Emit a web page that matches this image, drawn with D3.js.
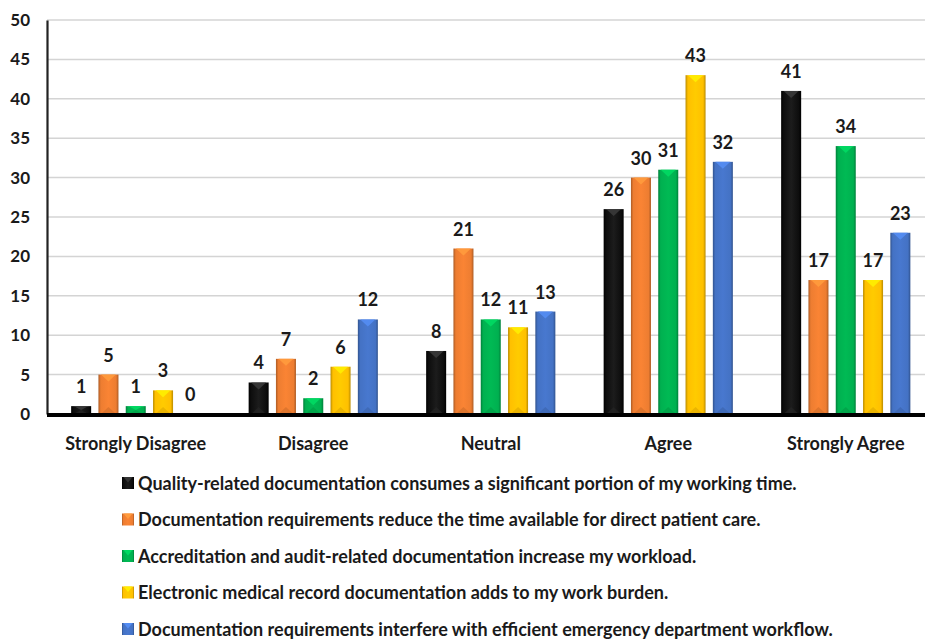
<!DOCTYPE html>
<html>
<head>
<meta charset="utf-8">
<script src="https://cdn.jsdelivr.net/npm/d3@7"></script>
<style>
  html, body { margin: 0; padding: 0; background: #fff; }
  svg text { font-family: Lato, "Open Sans", sans-serif; font-weight: bold; fill: #1a1a1a; }
</style>
</head>
<body>
<svg id="chart" width="925" height="639"></svg>
<script>
const categories = ["Strongly Disagree", "Disagree", "Neutral", "Agree", "Strongly Agree"];
const seriesNames = [
  "Quality-related documentation consumes a significant portion of my working time.",
  "Documentation requirements reduce the time available for direct patient care.",
  "Accreditation and audit-related documentation increase my workload.",
  "Electronic medical record documentation adds to my work burden.",
  "Documentation requirements interfere with efficient emergency department workflow."
];
const qualityTime   = [1, 4, 8, 26, 41];
const patientCare   = [5, 7, 21, 30, 17];
const accreditation = [1, 2, 12, 31, 34];
const emrBurden     = [3, 6, 11, 43, 17];
const edWorkflow    = [0, 12, 13, 32, 23];
const seriesValues = [qualityTime, patientCare, accreditation, emrBurden, edWorkflow];
const seriesColors = ["#0d0d0d", "#ED7D31", "#00B050", "#FFC000", "#4472C4"];
const yTicks = [0, 5, 10, 15, 20, 25, 30, 35, 40, 45, 50];

const svg = d3.select("#chart");
const W = 925, H = 639;
const pLeft = 47, pTop = 20, pBottom = 414, pRight = 934.5;

const x = d3.scaleBand().domain(categories).range([pLeft, pRight]).paddingInner(0).paddingOuter(0);
const xs = d3.scaleBand().domain(d3.range(5)).range([-68.25, 68.25]).paddingInner(0.267).paddingOuter(0.1335);
const y = d3.scaleLinear().domain([0, 50]).range([pBottom, pTop]);

const defs = svg.append("defs");
seriesColors.forEach((c, i) => {
  const base = d3.color(c);
  const g = defs.append("linearGradient").attr("id", "g" + i).attr("x1", "0").attr("x2", "1").attr("y1", "0").attr("y2", "0");
  const dark = i === 0 ? "#000" : base.darker(0.9).formatHex();
  const lite = i === 0 ? "#1c1c1c" : base.brighter(0.15).formatHex();
  g.append("stop").attr("offset", "0").attr("stop-color", dark);
  g.append("stop").attr("offset", "0.12").attr("stop-color", base.formatHex());
  g.append("stop").attr("offset", "0.5").attr("stop-color", lite);
  g.append("stop").attr("offset", "0.88").attr("stop-color", base.formatHex());
  g.append("stop").attr("offset", "1").attr("stop-color", dark);
});

// gridlines
svg.append("g").selectAll("line").data(yTicks.filter(t => t > 0)).join("line")
  .attr("x1", pLeft).attr("x2", W).attr("y1", d => y(d)).attr("y2", d => y(d))
  .attr("stroke", "#d4d4d4").attr("stroke-width", 1.5);

// y axis
const yAxis = d3.axisLeft(y).tickValues(yTicks).tickSize(0).tickPadding(17);
const ya = svg.append("g").attr("transform", `translate(${pLeft},0)`).call(yAxis);
ya.select(".domain").attr("stroke", "#222").attr("stroke-width", 2.2);
ya.selectAll("text").attr("font-size", 17).attr("font-family", "Lato, sans-serif").attr("font-weight", "bold").attr("fill", "#1a1a1a");

// bars
const groups = svg.append("g").selectAll("g").data(categories).join("g")
  .attr("transform", d => `translate(${x(d) + x.bandwidth() / 2},0)`);

groups.each(function(cat, ci) {
  const g = d3.select(this);
  seriesValues.forEach((vals, si) => {
    const v = vals[ci];
    const bx = xs(si), bw = xs.bandwidth();
    const by = y(v), bh = y(0) - y(v);
    if (bh > 0) {
      g.append("rect").attr("x", bx).attr("y", by).attr("width", bw).attr("height", bh)
        .attr("fill", `url(#g${si})`);
      const base = d3.color(seriesColors[si]);
      const topCol = si === 0 ? "#3a3a3a" : base.brighter(0.6).formatHex();
      const botCol = si === 0 ? "#262626" : base.darker(0.4).formatHex();
      const ch = Math.min(7, bh / 2);
      g.append("path")
        .attr("d", `M${bx + 2.5},${by} L${bx + bw - 2.5},${by} L${bx + bw / 2},${by + ch} Z`)
        .attr("fill", topCol).attr("opacity", 0.9);
      g.append("path")
        .attr("d", `M${bx + 2.5},${y(0)} L${bx + bw - 2.5},${y(0)} L${bx + bw / 2},${y(0) - ch} Z`)
        .attr("fill", botCol).attr("opacity", 0.6);
    }
    g.append("text").attr("x", bx + bw / 2).attr("y", by - 13)
      .attr("text-anchor", "middle").attr("font-size", 18).text(v);
  });
});

// baseline
svg.append("line").attr("x1", pLeft).attr("x2", W).attr("y1", pBottom + 1).attr("y2", pBottom + 1)
  .attr("stroke", "#000").attr("stroke-width", 4);

// category labels
const xAxis = d3.axisBottom(x).tickSize(0).tickPadding(0);
const xa = svg.append("g").attr("transform", `translate(0,${pBottom})`).call(xAxis);
xa.select(".domain").remove();
xa.selectAll("text").attr("dy", null).attr("y", 35.5).attr("font-size", 18)
  .attr("font-family", "Lato, sans-serif").attr("font-weight", "bold").attr("fill", "#1a1a1a");

// legend
const legendX = 122, legendY0 = 483, legendStep = 36.5;
const lg = svg.append("g").selectAll("g").data(seriesNames).join("g")
  .attr("transform", (d, i) => `translate(${legendX},${legendY0 + i * legendStep})`);
lg.append("rect").attr("x", 0).attr("y", -6).attr("width", 12).attr("height", 12)
  .attr("fill", (d, i) => `url(#g${i})`);
lg.append("path").attr("d", "M1.5,-6 L10.5,-6 L6,-0.5 Z")
  .attr("fill", (d, i) => i === 0 ? "#333" : d3.color(seriesColors[i]).brighter(0.6).formatHex());
lg.append("text").attr("x", 16).attr("y", 6.5).attr("font-size", 18).text(d => d);
</script>
</body>
</html>
